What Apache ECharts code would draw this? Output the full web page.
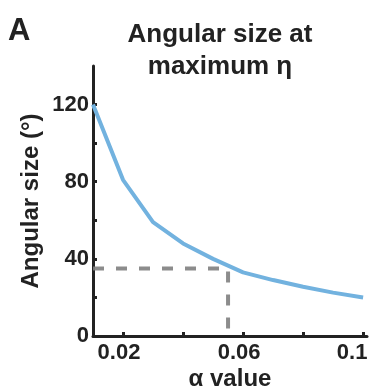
<!DOCTYPE html>
<html><head><meta charset="utf-8">
<script src="https://cdn.jsdelivr.net/npm/echarts@6/dist/echarts.min.js"></script>
<style>html,body{margin:0;padding:0;background:#fff}#c{width:369px;height:392px}</style>
</head><body><div id="c"></div>
<script>
const alphaValues = [0.01, 0.02, 0.03, 0.04, 0.05, 0.06, 0.07, 0.08, 0.09, 0.1];
const angularSize = [120, 81, 59, 48, 40, 33, 29, 25.5, 22.5, 20];
const markAlpha = 0.055;
const markAngle = 35;
const xTickValues = [0.02, 0.04, 0.06, 0.08, 0.1];
const xLabelValues = [0.02, 0.06, 0.1];
const yTickValues = [20, 40, 60, 80, 100, 120];
const yLabelValues = [0, 40, 80, 120];

const font = 'Liberation Sans, Arial, sans-serif';
const chart = echarts.init(document.getElementById('c'));
chart.setOption({
  animation: false,
  title: [
    {text: 'A', left: 8, top: 16, padding: 0,
     textStyle: {fontFamily: font, fontWeight: 'bold', fontSize: 31, color: '#222'}},
    {text: 'Angular size at\nmaximum η', left: 220, top: 19, textAlign: 'center', padding: 0,
     textStyle: {fontFamily: font, fontWeight: 'bold', fontSize: 26, color: '#222', lineHeight: 32}}
  ],
  grid: {left: 93, right: 2, top: 66, bottom: 56, containLabel: false, outerBoundsMode: 'none'},
  xAxis: {
    type: 'value', min: 0.01, max: 0.1013,
    name: 'α value', nameLocation: 'middle', nameGap: 31, nameMoveOverlap: false,
    nameTextStyle: {fontFamily: font, fontWeight: 'bold', fontSize: 24, color: '#222', verticalAlign: 'top'},
    axisLine: {lineStyle: {color: '#222', width: 3}},
    axisTick: {inside: true, length: 4, lineStyle: {color: '#222', width: 3}, customValues: xTickValues},
    axisLabel: {customValues: xLabelValues, fontFamily: font, fontWeight: 'bold', fontSize: 22, color: '#222', margin: 6,
      formatter: v => {
        const s = String(parseFloat(v.toFixed(3)));
        return v > 0.09 ? '{e|' + s + '}' : '{n|' + s + '}';
      },
      rich: {
        n: {fontFamily: font, fontWeight: 'bold', fontSize: 22, color: '#222', padding: [0, 8, 0, 0]},
        e: {fontFamily: font, fontWeight: 'bold', fontSize: 22, color: '#222', padding: [0, 22, 0, 0]}
      }},
    splitLine: {show: false}
  },
  yAxis: {
    type: 'value', min: 0, max: 140, interval: 20,
    name: 'Angular size (°)', nameLocation: 'middle', nameGap: 50, nameMoveOverlap: false,
    nameTextStyle: {fontFamily: font, fontWeight: 'bold', fontSize: 24, color: '#222'},
    axisLine: {lineStyle: {color: '#222', width: 3}},
    axisTick: {inside: true, length: 4, lineStyle: {color: '#222', width: 3}, customValues: yTickValues},
    axisLabel: {customValues: yLabelValues, fontFamily: font, fontWeight: 'bold', fontSize: 22, color: '#222', margin: 4},
    splitLine: {show: false}
  },
  series: [
    {type: 'line', data: alphaValues.map((a, i) => [a, angularSize[i]]), symbol: 'none',
     lineStyle: {color: '#72b2df', width: 4}, z: 2},
    {type: 'line', data: [[0.01, markAngle], [markAlpha, markAngle], [markAlpha, 0]], symbol: 'none',
     lineStyle: {color: '#7f7f7f', width: 4, type: [11, 12], opacity: 0.9}, z: 3}
  ]
});
</script></body></html>
